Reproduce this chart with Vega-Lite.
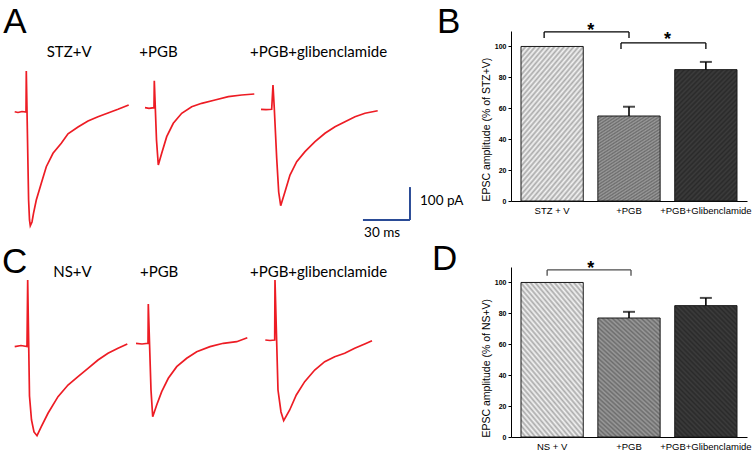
{
  "$schema": "https://vega.github.io/schema/vega-lite/v6.json",
  "background": "white",
  "padding": {"left": 0, "top": 5, "right": 0, "bottom": 0},
  "columns": 2,
  "spacing": {"row": 66, "column": 91},
  "bounds": "flush",
  "config": {"view": {"stroke": null}, "axis": {"labelOverlap": false}},
  "datasets": {
    "tracesA": [
      {"trace": "STZ+V", "t": 9.38, "i": 0.9}, {"trace": "STZ+V", "t": 11.49, "i": -1.5}, {"trace": "STZ+V", "t": 14.04, "i": 1.5}, {"trace": "STZ+V", "t": 16.59, "i": 0},
      {"trace": "STZ+V", "t": 16.78, "i": 124.6}, {"trace": "STZ+V", "t": 18.25, "i": -267.4}, {"trace": "STZ+V", "t": 18.82, "i": -328.1}, {"trace": "STZ+V", "t": 19.33, "i": -345.5},
      {"trace": "STZ+V", "t": 20.42, "i": -334.2}, {"trace": "STZ+V", "t": 21.38, "i": -307.8}, {"trace": "STZ+V", "t": 23.16, "i": -267.4}, {"trace": "STZ+V", "t": 26.35, "i": -216.6},
      {"trace": "STZ+V", "t": 29.54, "i": -166.2}, {"trace": "STZ+V", "t": 33.82, "i": -125.5}, {"trace": "STZ+V", "t": 39.11, "i": -95.1}, {"trace": "STZ+V", "t": 43.39, "i": -66.2},
      {"trace": "STZ+V", "t": 49.77, "i": -45.6}, {"trace": "STZ+V", "t": 56.15, "i": -27.3}, {"trace": "STZ+V", "t": 62.53, "i": -14.3}, {"trace": "STZ+V", "t": 68.91, "i": -3.0},
      {"trace": "STZ+V", "t": 75.29, "i": 8.2}, {"trace": "STZ+V", "t": 82.12, "i": 21.3},
      {"trace": "+PGB", "t": 92.52, "i": 13.1}, {"trace": "+PGB", "t": 95.07, "i": 11.2}, {"trace": "+PGB", "t": 98.26, "i": 13.1}, {"trace": "+PGB", "t": 98.46, "i": 95.1},
      {"trace": "+PGB", "t": 99.86, "i": -85.1}, {"trace": "+PGB", "t": 101.01, "i": -161.0}, {"trace": "+PGB", "t": 103.18, "i": -125.5}, {"trace": "+PGB", "t": 106.37, "i": -75.0},
      {"trace": "+PGB", "t": 110.58, "i": -34.3}, {"trace": "+PGB", "t": 115.94, "i": -3.9}, {"trace": "+PGB", "t": 122.32, "i": 16.1}, {"trace": "+PGB", "t": 128.70, "i": 26.4},
      {"trace": "+PGB", "t": 137.19, "i": 36.5}, {"trace": "+PGB", "t": 145.68, "i": 46.5}, {"trace": "+PGB", "t": 154.22, "i": 51.7}, {"trace": "+PGB", "t": 162.26, "i": 54.7},
      {"trace": "+PGB+glibenclamide", "t": 166.54, "i": 8.2}, {"trace": "+PGB+glibenclamide", "t": 169.73, "i": 7.0}, {"trace": "+PGB+glibenclamide", "t": 173.36, "i": 8.2},
      {"trace": "+PGB+glibenclamide", "t": 174.19, "i": 82.0}, {"trace": "+PGB+glibenclamide", "t": 175.02, "i": 11.2}, {"trace": "+PGB+glibenclamide", "t": 176.56, "i": -140.7},
      {"trace": "+PGB+glibenclamide", "t": 177.83, "i": -243.1}, {"trace": "+PGB+glibenclamide", "t": 179.11, "i": -284.7}, {"trace": "+PGB+glibenclamide", "t": 181.85, "i": -242.2},
      {"trace": "+PGB+glibenclamide", "t": 185.04, "i": -191.4}, {"trace": "+PGB+glibenclamide", "t": 189.32, "i": -151.0}, {"trace": "+PGB+glibenclamide", "t": 194.61, "i": -120.6},
      {"trace": "+PGB+glibenclamide", "t": 201.00, "i": -90.2}, {"trace": "+PGB+glibenclamide", "t": 207.38, "i": -64.7}, {"trace": "+PGB+glibenclamide", "t": 213.76, "i": -44.7},
      {"trace": "+PGB+glibenclamide", "t": 220.14, "i": -29.5}, {"trace": "+PGB+glibenclamide", "t": 226.52, "i": -14.3}, {"trace": "+PGB+glibenclamide", "t": 232.90, "i": -3.9},
      {"trace": "+PGB+glibenclamide", "t": 241.00, "i": 3.9}
    ],
    "tracesC": [
      {"trace": "NS+V", "t": 9.38, "i": -8.2}, {"trace": "NS+V", "t": 13.40, "i": -4.6}, {"trace": "NS+V", "t": 17.23, "i": -7.6}, {"trace": "NS+V", "t": 17.67, "i": 194.5},
      {"trace": "NS+V", "t": 18.82, "i": -158.0}, {"trace": "NS+V", "t": 20.10, "i": -230.9}, {"trace": "NS+V", "t": 21.69, "i": -267.4}, {"trace": "NS+V", "t": 23.61, "i": -278.6},
      {"trace": "NS+V", "t": 26.35, "i": -251.3}, {"trace": "NS+V", "t": 30.63, "i": -210.5}, {"trace": "NS+V", "t": 37.01, "i": -160.1}, {"trace": "NS+V", "t": 43.39, "i": -124.6},
      {"trace": "NS+V", "t": 49.77, "i": -99.4}, {"trace": "NS+V", "t": 56.15, "i": -73.9}, {"trace": "NS+V", "t": 62.53, "i": -48.6}, {"trace": "NS+V", "t": 68.91, "i": -28.3},
      {"trace": "NS+V", "t": 75.29, "i": -13.1}, {"trace": "NS+V", "t": 81.23, "i": 0},
      {"trace": "+PGB", "t": 86.78, "i": 2.1}, {"trace": "+PGB", "t": 90.61, "i": 0}, {"trace": "+PGB", "t": 94.44, "i": 2.1}, {"trace": "+PGB", "t": 94.63, "i": 121.5},
      {"trace": "+PGB", "t": 96.35, "i": -139.8}, {"trace": "+PGB", "t": 97.44, "i": -220.9}, {"trace": "+PGB", "t": 99.99, "i": -185.3}, {"trace": "+PGB", "t": 103.18, "i": -144.9},
      {"trace": "+PGB", "t": 107.39, "i": -104.2}, {"trace": "+PGB", "t": 112.75, "i": -68.9}, {"trace": "+PGB", "t": 119.13, "i": -43.4}, {"trace": "+PGB", "t": 125.51, "i": -23.4},
      {"trace": "+PGB", "t": 134.00, "i": -8.2}, {"trace": "+PGB", "t": 142.48, "i": 2.1}, {"trace": "+PGB", "t": 151.03, "i": 7.0}, {"trace": "+PGB", "t": 157.80, "i": 19.1},
      {"trace": "+PGB+glibenclamide", "t": 169.28, "i": 12.2}, {"trace": "+PGB+glibenclamide", "t": 172.28, "i": 10.6}, {"trace": "+PGB+glibenclamide", "t": 175.28, "i": 12.2},
      {"trace": "+PGB+glibenclamide", "t": 175.47, "i": 194.5}, {"trace": "+PGB+glibenclamide", "t": 177.39, "i": -139.8}, {"trace": "+PGB+glibenclamide", "t": 179.30, "i": -206.6},
      {"trace": "+PGB+glibenclamide", "t": 181.02, "i": -233.0}, {"trace": "+PGB+glibenclamide", "t": 184.85, "i": -200.5}, {"trace": "+PGB+glibenclamide", "t": 189.07, "i": -155.0},
      {"trace": "+PGB+glibenclamide", "t": 194.42, "i": -114.5}, {"trace": "+PGB+glibenclamide", "t": 200.81, "i": -79.0}, {"trace": "+PGB+glibenclamide", "t": 207.19, "i": -53.8},
      {"trace": "+PGB+glibenclamide", "t": 213.56, "i": -38.6}, {"trace": "+PGB+glibenclamide", "t": 219.94, "i": -28.3}, {"trace": "+PGB+glibenclamide", "t": 226.33, "i": -13.1},
      {"trace": "+PGB+glibenclamide", "t": 232.71, "i": 0}, {"trace": "+PGB+glibenclamide", "t": 237.37, "i": 10.0}
    ],
    "labelsA": [{"text": "STZ+V", "t": 29.8, "i": 167.1}, {"text": "+PGB", "t": 88.9, "i": 167.1}, {"text": "+PGB+glibenclamide", "t": 159.5, "i": 167.1}],
    "labelsC": [{"text": "NS+V", "t": 34.0, "i": 204.5}, {"text": "+PGB", "t": 89.3, "i": 204.5}, {"text": "+PGB+glibenclamide", "t": 159.5, "i": 204.5}],
    "lettersA": [{"text": "A", "t": 2.1, "i": 239.1}, {"text": "B", "t": 278.8, "i": 240.0}],
    "lettersC": [{"text": "C", "t": 1.3, "i": 214.8}, {"text": "D", "t": 275.6, "i": 224.8}],
    "scalebar": [{"t": 231.6, "t2": 261.6, "i": -328.1, "i2": -328.1}, {"t": 261.6, "t2": 261.6, "i": -328.1, "i2": -228.1}],
    "scalebarText": [{"text": "100 pA", "t": 268.0, "i": -282.6}, {"text": "30 ms", "t": 232.3, "i": -379.8}],
    "barsB": [{"group": "STZ + V", "mean": 100, "upper": 100}, {"group": "+PGB", "mean": 55, "upper": 61}, {"group": "+PGB+Glibenclamide", "mean": 85, "upper": 90}],
    "barsD": [{"group": "NS + V", "mean": 100, "upper": 100}, {"group": "+PGB", "mean": 77, "upper": 81}, {"group": "+PGB+Glibenclamide", "mean": 85, "upper": 90}],
    "bracketsB": [{"from": "STZ + V", "to": "+PGB", "y": 109.4, "ytick": 105.5, "ystar": 106.8}, {"from": "+PGB", "to": "+PGB+Glibenclamide", "y": 102.3, "ytick": 98.4, "ystar": 101.0}],
    "bracketsD": [{"from": "NS + V", "to": "+PGB", "y": 108.1, "ytick": 104.4, "ystar": 105.5}]
  },
  "concat": [
    {
      "width": 420, "height": 170,
      "layer": [
        {"data": {"name": "tracesA"}, "mark": {"type": "line", "color": "#ed1c24", "strokeWidth": 1.7},
         "encoding": {"x": {"field": "t", "type": "quantitative", "scale": {"domain": [0, 268], "nice": false, "zero": false}, "axis": null},
                      "y": {"field": "i", "type": "quantitative", "scale": {"domain": [-270.4, 246.1], "nice": false, "zero": false}, "axis": null},
                      "detail": {"field": "trace", "type": "nominal"}}},
        {"data": {"name": "scalebar"}, "mark": {"type": "rule", "color": "#2a4b96", "strokeWidth": 2},
         "encoding": {"x": {"field": "t", "type": "quantitative", "axis": null}, "x2": {"field": "t2"}, "y": {"field": "i", "type": "quantitative", "axis": null}, "y2": {"field": "i2"}}},
        {"data": {"name": "scalebarText"}, "mark": {"type": "text", "align": "left", "baseline": "alphabetic", "font": "Lato", "fontSize": 13.5, "color": "black"},
         "encoding": {"x": {"field": "t", "type": "quantitative", "axis": null}, "y": {"field": "i", "type": "quantitative", "axis": null}, "text": {"field": "text"}}},
        {"data": {"name": "labelsA"}, "mark": {"type": "text", "align": "left", "baseline": "alphabetic", "font": "Lato", "fontSize": 15, "color": "black"},
         "encoding": {"x": {"field": "t", "type": "quantitative", "axis": null}, "y": {"field": "i", "type": "quantitative", "axis": null}, "text": {"field": "text"}}},
        {"data": {"name": "lettersA"}, "mark": {"type": "text", "align": "left", "baseline": "alphabetic", "font": "Liberation Sans", "fontSize": 35, "color": "black"},
         "encoding": {"x": {"field": "t", "type": "quantitative", "axis": null}, "y": {"field": "i", "type": "quantitative", "axis": null}, "text": {"field": "text"}}}
      ]
    },
    {
      "width": 236, "height": 170,
      "layer": [
        {"data": {"name": "barsB"}, "mark": {"type": "bar", "strokeWidth": 0},
         "encoding": {
           "x": {"field": "group", "type": "nominal", "title": null,
                 "scale": {"domain": ["STZ + V", "+PGB", "+PGB+Glibenclamide"], "paddingInner": 0.19, "paddingOuter": 0.13},
                 "axis": {"labelAngle": 0, "ticks": false, "tickSize": 0, "labelPadding": 4, "labelFont": "Liberation Sans", "labelFontSize": 9.5, "labelColor": "black", "domainColor": "black", "domainWidth": 1}},
           "y": {"field": "mean", "type": "quantitative", "title": "EPSC amplitude (% of STZ+V)", "scale": {"domain": [0, 110], "nice": false},
                 "axis": {"values": [0, 20, 40, 60, 80, 100], "tickCount": 12, "labelOverlap": false, "grid": false, "titleAnchor": "start", "titleFont": "Liberation Sans", "titleFontSize": 10.5, "titleFontWeight": "normal", "titleColor": "black", "titlePadding": 3,
                          "labelFont": "Liberation Sans", "labelFontSize": 7, "labelFontWeight": "bold", "labelColor": "black", "labelPadding": 2, "tickSize": 3, "tickColor": "black", "domainColor": "black"}},
           "fill": {"field": "group", "type": "nominal", "scale": {"domain": ["STZ + V", "+PGB", "+PGB+Glibenclamide"], "range": ["#f4f4f4", "#9a9a9a", "#3c3c3c"]}, "legend": null}
         }},
        {"data": {"name": "barsB"}, "mark": {"type": "bar", "stroke": "#1a1a1a", "strokeWidth": 1,
           "fill": {"gradient": "linear", "x1": 0, "y1": 0, "x2": 0.574, "y2": 1.203, "stops": [
             {"offset": 0, "color": "rgba(0,0,0,0.3)"}, {"offset": 0.0125, "color": "rgba(0,0,0,0)"}, {"offset": 0.025, "color": "rgba(0,0,0,0.3)"}, {"offset": 0.0375, "color": "rgba(0,0,0,0)"},
             {"offset": 0.05, "color": "rgba(0,0,0,0.3)"}, {"offset": 0.0625, "color": "rgba(0,0,0,0)"}, {"offset": 0.075, "color": "rgba(0,0,0,0.3)"}, {"offset": 0.0875, "color": "rgba(0,0,0,0)"},
             {"offset": 0.1, "color": "rgba(0,0,0,0.3)"}, {"offset": 0.1125, "color": "rgba(0,0,0,0)"}, {"offset": 0.125, "color": "rgba(0,0,0,0.3)"}, {"offset": 0.1375, "color": "rgba(0,0,0,0)"},
             {"offset": 0.15, "color": "rgba(0,0,0,0.3)"}, {"offset": 0.1625, "color": "rgba(0,0,0,0)"}, {"offset": 0.175, "color": "rgba(0,0,0,0.3)"}, {"offset": 0.1875, "color": "rgba(0,0,0,0)"},
             {"offset": 0.2, "color": "rgba(0,0,0,0.3)"}, {"offset": 0.2125, "color": "rgba(0,0,0,0)"}, {"offset": 0.225, "color": "rgba(0,0,0,0.3)"}, {"offset": 0.2375, "color": "rgba(0,0,0,0)"},
             {"offset": 0.25, "color": "rgba(0,0,0,0.3)"}, {"offset": 0.2625, "color": "rgba(0,0,0,0)"}, {"offset": 0.275, "color": "rgba(0,0,0,0.3)"}, {"offset": 0.2875, "color": "rgba(0,0,0,0)"},
             {"offset": 0.3, "color": "rgba(0,0,0,0.3)"}, {"offset": 0.3125, "color": "rgba(0,0,0,0)"}, {"offset": 0.325, "color": "rgba(0,0,0,0.3)"}, {"offset": 0.3375, "color": "rgba(0,0,0,0)"},
             {"offset": 0.35, "color": "rgba(0,0,0,0.3)"}, {"offset": 0.3625, "color": "rgba(0,0,0,0)"}, {"offset": 0.375, "color": "rgba(0,0,0,0.3)"}, {"offset": 0.3875, "color": "rgba(0,0,0,0)"},
             {"offset": 0.4, "color": "rgba(0,0,0,0.3)"}, {"offset": 0.4125, "color": "rgba(0,0,0,0)"}, {"offset": 0.425, "color": "rgba(0,0,0,0.3)"}, {"offset": 0.4375, "color": "rgba(0,0,0,0)"},
             {"offset": 0.45, "color": "rgba(0,0,0,0.3)"}, {"offset": 0.4625, "color": "rgba(0,0,0,0)"}, {"offset": 0.475, "color": "rgba(0,0,0,0.3)"}, {"offset": 0.4875, "color": "rgba(0,0,0,0)"},
             {"offset": 0.5, "color": "rgba(0,0,0,0.3)"}, {"offset": 0.5125, "color": "rgba(0,0,0,0)"}, {"offset": 0.525, "color": "rgba(0,0,0,0.3)"}, {"offset": 0.5375, "color": "rgba(0,0,0,0)"},
             {"offset": 0.55, "color": "rgba(0,0,0,0.3)"}, {"offset": 0.5625, "color": "rgba(0,0,0,0)"}, {"offset": 0.575, "color": "rgba(0,0,0,0.3)"}, {"offset": 0.5875, "color": "rgba(0,0,0,0)"},
             {"offset": 0.6, "color": "rgba(0,0,0,0.3)"}, {"offset": 0.6125, "color": "rgba(0,0,0,0)"}, {"offset": 0.625, "color": "rgba(0,0,0,0.3)"}, {"offset": 0.6375, "color": "rgba(0,0,0,0)"},
             {"offset": 0.65, "color": "rgba(0,0,0,0.3)"}, {"offset": 0.6625, "color": "rgba(0,0,0,0)"}, {"offset": 0.675, "color": "rgba(0,0,0,0.3)"}, {"offset": 0.6875, "color": "rgba(0,0,0,0)"},
             {"offset": 0.7, "color": "rgba(0,0,0,0.3)"}, {"offset": 0.7125, "color": "rgba(0,0,0,0)"}, {"offset": 0.725, "color": "rgba(0,0,0,0.3)"}, {"offset": 0.7375, "color": "rgba(0,0,0,0)"},
             {"offset": 0.75, "color": "rgba(0,0,0,0.3)"}, {"offset": 0.7625, "color": "rgba(0,0,0,0)"}, {"offset": 0.775, "color": "rgba(0,0,0,0.3)"}, {"offset": 0.7875, "color": "rgba(0,0,0,0)"},
             {"offset": 0.8, "color": "rgba(0,0,0,0.3)"}, {"offset": 0.8125, "color": "rgba(0,0,0,0)"}, {"offset": 0.825, "color": "rgba(0,0,0,0.3)"}, {"offset": 0.8375, "color": "rgba(0,0,0,0)"},
             {"offset": 0.85, "color": "rgba(0,0,0,0.3)"}, {"offset": 0.8625, "color": "rgba(0,0,0,0)"}, {"offset": 0.875, "color": "rgba(0,0,0,0.3)"}, {"offset": 0.8875, "color": "rgba(0,0,0,0)"},
             {"offset": 0.9, "color": "rgba(0,0,0,0.3)"}, {"offset": 0.9125, "color": "rgba(0,0,0,0)"}, {"offset": 0.925, "color": "rgba(0,0,0,0.3)"}, {"offset": 0.9375, "color": "rgba(0,0,0,0)"},
             {"offset": 0.95, "color": "rgba(0,0,0,0.3)"}, {"offset": 0.9625, "color": "rgba(0,0,0,0)"}, {"offset": 0.975, "color": "rgba(0,0,0,0.3)"}, {"offset": 0.9875, "color": "rgba(0,0,0,0)"},
             {"offset": 1, "color": "rgba(0,0,0,0.3)"}]}},
         "encoding": {"x": {"field": "group", "type": "nominal", "title": null}, "y": {"field": "mean", "type": "quantitative", "title": "EPSC amplitude (% of STZ+V)"}}},
        {"data": {"name": "barsB"}, "transform": [{"filter": "datum.upper > datum.mean"}], "mark": {"type": "rule", "color": "black", "strokeWidth": 1.6},
         "encoding": {"x": {"field": "group", "type": "nominal", "title": null}, "y": {"field": "mean", "type": "quantitative", "title": "EPSC amplitude (% of STZ+V)"}, "y2": {"field": "upper"}}},
        {"data": {"name": "barsB"}, "transform": [{"filter": "datum.upper > datum.mean"}], "mark": {"type": "tick", "orient": "horizontal", "color": "black", "size": 12, "thickness": 2},
         "encoding": {"x": {"field": "group", "type": "nominal", "title": null}, "y": {"field": "upper", "type": "quantitative", "title": "EPSC amplitude (% of STZ+V)"}}},
        {"data": {"name": "bracketsB"}, "mark": {"type": "rule", "color": "black", "strokeWidth": 1.3, "xOffset": -8},
         "encoding": {"x": {"field": "from", "type": "nominal", "title": null}, "x2": {"field": "to"}, "y": {"field": "y", "type": "quantitative", "title": "EPSC amplitude (% of STZ+V)"}}},
        {"data": {"name": "bracketsB"}, "mark": {"type": "rule", "color": "black", "strokeWidth": 1.3, "xOffset": -8},
         "encoding": {"x": {"field": "from", "type": "nominal", "title": null}, "y": {"field": "y", "type": "quantitative", "title": "EPSC amplitude (% of STZ+V)"}, "y2": {"field": "ytick"}}},
        {"data": {"name": "bracketsB"}, "mark": {"type": "rule", "color": "black", "strokeWidth": 1.3},
         "encoding": {"x": {"field": "to", "type": "nominal", "title": null}, "y": {"field": "y", "type": "quantitative", "title": "EPSC amplitude (% of STZ+V)"}, "y2": {"field": "ytick"}}},
        {"data": {"name": "bracketsB"}, "mark": {"type": "text", "text": "*", "dx": 38.5, "align": "center", "baseline": "alphabetic", "font": "Liberation Sans", "fontSize": 18, "fontWeight": "bold", "color": "black"},
         "encoding": {"x": {"field": "from", "type": "nominal", "title": null}, "y": {"field": "ystar", "type": "quantitative", "title": "EPSC amplitude (% of STZ+V)"}}}
      ]
    },
    {
      "width": 420, "height": 170,
      "layer": [
        {"data": {"name": "tracesC"}, "mark": {"type": "line", "color": "#ed1c24", "strokeWidth": 1.7},
         "encoding": {"x": {"field": "t", "type": "quantitative", "scale": {"domain": [0, 268], "nice": false, "zero": false}, "axis": null},
                      "y": {"field": "i", "type": "quantitative", "scale": {"domain": [-282.6, 233.9], "nice": false, "zero": false}, "axis": null},
                      "detail": {"field": "trace", "type": "nominal"}}},
        {"data": {"name": "labelsC"}, "mark": {"type": "text", "align": "left", "baseline": "alphabetic", "font": "Lato", "fontSize": 15, "color": "black"},
         "encoding": {"x": {"field": "t", "type": "quantitative", "axis": null}, "y": {"field": "i", "type": "quantitative", "axis": null}, "text": {"field": "text"}}},
        {"data": {"name": "lettersC"}, "mark": {"type": "text", "align": "left", "baseline": "alphabetic", "font": "Liberation Sans", "fontSize": 35, "color": "black"},
         "encoding": {"x": {"field": "t", "type": "quantitative", "axis": null}, "y": {"field": "i", "type": "quantitative", "axis": null}, "text": {"field": "text"}}}
      ]
    },
    {
      "width": 236, "height": 170,
      "layer": [
        {"data": {"name": "barsD"}, "mark": {"type": "bar", "strokeWidth": 0},
         "encoding": {
           "x": {"field": "group", "type": "nominal", "title": null,
                 "scale": {"domain": ["NS + V", "+PGB", "+PGB+Glibenclamide"], "paddingInner": 0.19, "paddingOuter": 0.13},
                 "axis": {"labelAngle": 0, "ticks": false, "tickSize": 0, "labelPadding": 4, "labelFont": "Liberation Sans", "labelFontSize": 9.5, "labelColor": "black", "domainColor": "black", "domainWidth": 1}},
           "y": {"field": "mean", "type": "quantitative", "title": "EPSC amplitude (% of NS+V)", "scale": {"domain": [0, 110], "nice": false},
                 "axis": {"values": [0, 20, 40, 60, 80, 100], "tickCount": 12, "labelOverlap": false, "grid": false, "titleAnchor": "start", "titleFont": "Liberation Sans", "titleFontSize": 10.5, "titleFontWeight": "normal", "titleColor": "black", "titlePadding": 3,
                          "labelFont": "Liberation Sans", "labelFontSize": 7, "labelFontWeight": "bold", "labelColor": "black", "labelPadding": 2, "tickSize": 3, "tickColor": "black", "domainColor": "black"}},
           "fill": {"field": "group", "type": "nominal", "scale": {"domain": ["NS + V", "+PGB", "+PGB+Glibenclamide"], "range": ["#f6f6f6", "#a4a4a4", "#3c3c3c"]}, "legend": null}
         }},
        {"data": {"name": "barsD"}, "mark": {"type": "bar", "stroke": "#1a1a1a", "strokeWidth": 1,
           "fill": {"gradient": "linear", "x1": 0, "y1": 1, "x2": 0.574, "y2": -0.203, "stops": [
             {"offset": 0, "color": "rgba(0,0,0,0.3)"}, {"offset": 0.0125, "color": "rgba(0,0,0,0)"}, {"offset": 0.025, "color": "rgba(0,0,0,0.3)"}, {"offset": 0.0375, "color": "rgba(0,0,0,0)"},
             {"offset": 0.05, "color": "rgba(0,0,0,0.3)"}, {"offset": 0.0625, "color": "rgba(0,0,0,0)"}, {"offset": 0.075, "color": "rgba(0,0,0,0.3)"}, {"offset": 0.0875, "color": "rgba(0,0,0,0)"},
             {"offset": 0.1, "color": "rgba(0,0,0,0.3)"}, {"offset": 0.1125, "color": "rgba(0,0,0,0)"}, {"offset": 0.125, "color": "rgba(0,0,0,0.3)"}, {"offset": 0.1375, "color": "rgba(0,0,0,0)"},
             {"offset": 0.15, "color": "rgba(0,0,0,0.3)"}, {"offset": 0.1625, "color": "rgba(0,0,0,0)"}, {"offset": 0.175, "color": "rgba(0,0,0,0.3)"}, {"offset": 0.1875, "color": "rgba(0,0,0,0)"},
             {"offset": 0.2, "color": "rgba(0,0,0,0.3)"}, {"offset": 0.2125, "color": "rgba(0,0,0,0)"}, {"offset": 0.225, "color": "rgba(0,0,0,0.3)"}, {"offset": 0.2375, "color": "rgba(0,0,0,0)"},
             {"offset": 0.25, "color": "rgba(0,0,0,0.3)"}, {"offset": 0.2625, "color": "rgba(0,0,0,0)"}, {"offset": 0.275, "color": "rgba(0,0,0,0.3)"}, {"offset": 0.2875, "color": "rgba(0,0,0,0)"},
             {"offset": 0.3, "color": "rgba(0,0,0,0.3)"}, {"offset": 0.3125, "color": "rgba(0,0,0,0)"}, {"offset": 0.325, "color": "rgba(0,0,0,0.3)"}, {"offset": 0.3375, "color": "rgba(0,0,0,0)"},
             {"offset": 0.35, "color": "rgba(0,0,0,0.3)"}, {"offset": 0.3625, "color": "rgba(0,0,0,0)"}, {"offset": 0.375, "color": "rgba(0,0,0,0.3)"}, {"offset": 0.3875, "color": "rgba(0,0,0,0)"},
             {"offset": 0.4, "color": "rgba(0,0,0,0.3)"}, {"offset": 0.4125, "color": "rgba(0,0,0,0)"}, {"offset": 0.425, "color": "rgba(0,0,0,0.3)"}, {"offset": 0.4375, "color": "rgba(0,0,0,0)"},
             {"offset": 0.45, "color": "rgba(0,0,0,0.3)"}, {"offset": 0.4625, "color": "rgba(0,0,0,0)"}, {"offset": 0.475, "color": "rgba(0,0,0,0.3)"}, {"offset": 0.4875, "color": "rgba(0,0,0,0)"},
             {"offset": 0.5, "color": "rgba(0,0,0,0.3)"}, {"offset": 0.5125, "color": "rgba(0,0,0,0)"}, {"offset": 0.525, "color": "rgba(0,0,0,0.3)"}, {"offset": 0.5375, "color": "rgba(0,0,0,0)"},
             {"offset": 0.55, "color": "rgba(0,0,0,0.3)"}, {"offset": 0.5625, "color": "rgba(0,0,0,0)"}, {"offset": 0.575, "color": "rgba(0,0,0,0.3)"}, {"offset": 0.5875, "color": "rgba(0,0,0,0)"},
             {"offset": 0.6, "color": "rgba(0,0,0,0.3)"}, {"offset": 0.6125, "color": "rgba(0,0,0,0)"}, {"offset": 0.625, "color": "rgba(0,0,0,0.3)"}, {"offset": 0.6375, "color": "rgba(0,0,0,0)"},
             {"offset": 0.65, "color": "rgba(0,0,0,0.3)"}, {"offset": 0.6625, "color": "rgba(0,0,0,0)"}, {"offset": 0.675, "color": "rgba(0,0,0,0.3)"}, {"offset": 0.6875, "color": "rgba(0,0,0,0)"},
             {"offset": 0.7, "color": "rgba(0,0,0,0.3)"}, {"offset": 0.7125, "color": "rgba(0,0,0,0)"}, {"offset": 0.725, "color": "rgba(0,0,0,0.3)"}, {"offset": 0.7375, "color": "rgba(0,0,0,0)"},
             {"offset": 0.75, "color": "rgba(0,0,0,0.3)"}, {"offset": 0.7625, "color": "rgba(0,0,0,0)"}, {"offset": 0.775, "color": "rgba(0,0,0,0.3)"}, {"offset": 0.7875, "color": "rgba(0,0,0,0)"},
             {"offset": 0.8, "color": "rgba(0,0,0,0.3)"}, {"offset": 0.8125, "color": "rgba(0,0,0,0)"}, {"offset": 0.825, "color": "rgba(0,0,0,0.3)"}, {"offset": 0.8375, "color": "rgba(0,0,0,0)"},
             {"offset": 0.85, "color": "rgba(0,0,0,0.3)"}, {"offset": 0.8625, "color": "rgba(0,0,0,0)"}, {"offset": 0.875, "color": "rgba(0,0,0,0.3)"}, {"offset": 0.8875, "color": "rgba(0,0,0,0)"},
             {"offset": 0.9, "color": "rgba(0,0,0,0.3)"}, {"offset": 0.9125, "color": "rgba(0,0,0,0)"}, {"offset": 0.925, "color": "rgba(0,0,0,0.3)"}, {"offset": 0.9375, "color": "rgba(0,0,0,0)"},
             {"offset": 0.95, "color": "rgba(0,0,0,0.3)"}, {"offset": 0.9625, "color": "rgba(0,0,0,0)"}, {"offset": 0.975, "color": "rgba(0,0,0,0.3)"}, {"offset": 0.9875, "color": "rgba(0,0,0,0)"},
             {"offset": 1, "color": "rgba(0,0,0,0.3)"}]}},
         "encoding": {"x": {"field": "group", "type": "nominal", "title": null}, "y": {"field": "mean", "type": "quantitative", "title": "EPSC amplitude (% of NS+V)"}}},
        {"data": {"name": "barsD"}, "transform": [{"filter": "datum.upper > datum.mean"}], "mark": {"type": "rule", "color": "black", "strokeWidth": 1.6},
         "encoding": {"x": {"field": "group", "type": "nominal", "title": null}, "y": {"field": "mean", "type": "quantitative", "title": "EPSC amplitude (% of NS+V)"}, "y2": {"field": "upper"}}},
        {"data": {"name": "barsD"}, "transform": [{"filter": "datum.upper > datum.mean"}], "mark": {"type": "tick", "orient": "horizontal", "color": "black", "size": 12, "thickness": 2},
         "encoding": {"x": {"field": "group", "type": "nominal", "title": null}, "y": {"field": "upper", "type": "quantitative", "title": "EPSC amplitude (% of NS+V)"}}},
        {"data": {"name": "bracketsD"}, "mark": {"type": "rule", "color": "#4d4d4d", "strokeWidth": 1.3, "xOffset": -5, "x2Offset": 2},
         "encoding": {"x": {"field": "from", "type": "nominal", "title": null}, "x2": {"field": "to"}, "y": {"field": "y", "type": "quantitative", "title": "EPSC amplitude (% of NS+V)"}}},
        {"data": {"name": "bracketsD"}, "mark": {"type": "rule", "color": "#4d4d4d", "strokeWidth": 1.3, "xOffset": -5},
         "encoding": {"x": {"field": "from", "type": "nominal", "title": null}, "y": {"field": "y", "type": "quantitative", "title": "EPSC amplitude (% of NS+V)"}, "y2": {"field": "ytick"}}},
        {"data": {"name": "bracketsD"}, "mark": {"type": "rule", "color": "#4d4d4d", "strokeWidth": 1.3, "xOffset": 2},
         "encoding": {"x": {"field": "to", "type": "nominal", "title": null}, "y": {"field": "y", "type": "quantitative", "title": "EPSC amplitude (% of NS+V)"}, "y2": {"field": "ytick"}}},
        {"data": {"name": "bracketsD"}, "mark": {"type": "text", "text": "*", "dx": 38.5, "align": "center", "baseline": "alphabetic", "font": "Liberation Sans", "fontSize": 18, "fontWeight": "bold", "color": "black"},
         "encoding": {"x": {"field": "from", "type": "nominal", "title": null}, "y": {"field": "ystar", "type": "quantitative", "title": "EPSC amplitude (% of NS+V)"}}}
      ]
    }
  ]
}
